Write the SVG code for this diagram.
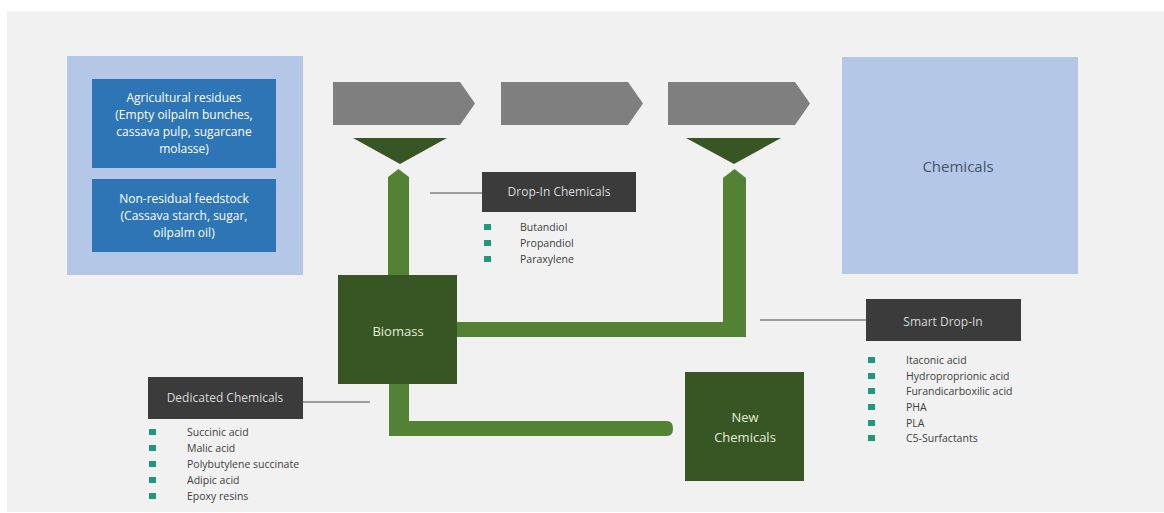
<svg xmlns="http://www.w3.org/2000/svg" width="1164" height="513" viewBox="0 0 1164 513">
<style>
text{font-family:"Open Sans","Noto Sans","Liberation Sans",sans-serif}
.lbox{fill:#b4c7e7}
.dbox{fill:#2e75b6}
.wt{fill:#ffffff;font-size:12px;text-anchor:middle}
.chev{fill:#7f7f7f}
.tri{fill:#375623}
.pipe{fill:#548235}
.gbox{fill:#375623}
.gt{fill:#e2efd9;font-size:13px;text-anchor:middle}
.hbox{fill:#3b3b3b}
.ht{fill:#d9d9d9;font-size:12px;text-anchor:middle}
.lead{stroke:#7f7f7f;stroke-width:1.5;fill:none}
.bul{fill:#1f9a78}
.li{fill:#404040;font-size:10.5px}
</style>
<rect x="0" y="0" width="1164" height="513" fill="#ffffff"/>
<rect x="7" y="11" width="1157" height="501" fill="#f1f1f1"/>

<g id="feedstock">
<rect class="lbox" x="67" y="56" width="236" height="219"/>
<g id="agri">
<rect class="dbox" x="92" y="79" width="184" height="89"/>
<text class="wt" x="184" y="102">Agricultural residues</text>
<text class="wt" x="184" y="119">(Empty oilpalm bunches,</text>
<text class="wt" x="184" y="136">cassava pulp, sugarcane</text>
<text class="wt" x="184" y="153">molasse)</text>
</g>
<g id="nonres">
<rect class="dbox" x="92" y="179" width="184" height="73"/>
<text class="wt" x="184" y="203">Non-residual feedstock</text>
<text class="wt" x="184" y="220">(Cassava starch, sugar,</text>
<text class="wt" x="184" y="237">oilpalm oil)</text>
</g>
</g>

<g id="chevron1"><polygon class="chev" points="333,82 460,82 475,103.5 460,125 333,125"/></g>
<g id="chevron2"><polygon class="chev" points="501,82 628,82 643,103.5 628,125 501,125"/></g>
<g id="chevron3"><polygon class="chev" points="668,82 795,82 810,103.5 795,125 668,125"/></g>

<g id="funnel1"><polygon class="tri" points="353,138 447,138 400,164"/></g>
<g id="funnel2"><polygon class="tri" points="686,138 781,138 734,164"/></g>

<g id="connectors">
<polygon class="pipe" points="388,177 398.5,169 409,177 409,276 388,276"/>
<polygon class="pipe" points="457,322 723,322 723,178 734.5,169 746,178 746,337 457,337"/>
<path class="pipe" d="M389,384 H409 V421 H667 Q673,421 673,428.5 Q673,436 667,436 H389 Z"/>
<line class="lead" x1="430" y1="193" x2="482" y2="193"/>
<line class="lead" x1="303" y1="402" x2="370" y2="402"/>
<line class="lead" x1="760" y1="320" x2="866" y2="320"/>
</g>

<g id="chemicals">
<rect class="lbox" x="842" y="57" width="236" height="217"/>
<text x="958" y="172" fill="#44546a" font-size="15" text-anchor="middle">Chemicals</text>
</g>

<g id="biomass">
<rect class="gbox" x="338" y="275" width="119" height="109"/>
<text class="gt" x="398" y="336">Biomass</text>
</g>

<g id="newchem">
<rect class="gbox" x="685" y="372" width="119" height="109"/>
<text class="gt" x="745" y="422" font-size="14">New</text>
<text class="gt" x="745" y="442" font-size="14">Chemicals</text>
</g>

<g id="dropin">
<rect class="hbox" x="482" y="172" width="154" height="40"/>
<text class="ht" x="559" y="196">Drop-In Chemicals</text>
<rect class="bul" x="484" y="224" width="7" height="6"/>
<rect class="bul" x="484" y="240" width="7" height="6"/>
<rect class="bul" x="484" y="256" width="7" height="6"/>
<text class="li" x="520" y="231">Butandiol</text>
<text class="li" x="520" y="247">Propandiol</text>
<text class="li" x="520" y="263">Paraxylene</text>
</g>

<g id="dedicated">
<rect class="hbox" x="148" y="377" width="155" height="42"/>
<text class="ht" x="225" y="402">Dedicated Chemicals</text>
<rect class="bul" x="149" y="429" width="7" height="6"/>
<rect class="bul" x="149" y="445" width="7" height="6"/>
<rect class="bul" x="149" y="461" width="7" height="6"/>
<rect class="bul" x="149" y="477" width="7" height="6"/>
<rect class="bul" x="149" y="493" width="7" height="6"/>
<text class="li" x="187" y="436">Succinic acid</text>
<text class="li" x="187" y="452">Malic acid</text>
<text class="li" x="187" y="468">Polybutylene succinate</text>
<text class="li" x="187" y="484">Adipic acid</text>
<text class="li" x="187" y="500">Epoxy resins</text>
</g>

<g id="smartdropin">
<rect class="hbox" x="866" y="299" width="155" height="42"/>
<text class="ht" x="943" y="326">Smart Drop-In</text>
<rect class="bul" x="868" y="357" width="7" height="6"/>
<rect class="bul" x="868" y="373" width="7" height="6"/>
<rect class="bul" x="868" y="388" width="7" height="6"/>
<rect class="bul" x="868" y="404" width="7" height="6"/>
<rect class="bul" x="868" y="420" width="7" height="6"/>
<rect class="bul" x="868" y="435" width="7" height="6"/>
<text class="li" x="906" y="364">Itaconic acid</text>
<text class="li" x="906" y="380">Hydroproprionic acid</text>
<text class="li" x="906" y="395">Furandicarboxilic acid</text>
<text class="li" x="906" y="411">PHA</text>
<text class="li" x="906" y="427">PLA</text>
<text class="li" x="906" y="442">C5-Surfactants</text>
</g>
</svg>
